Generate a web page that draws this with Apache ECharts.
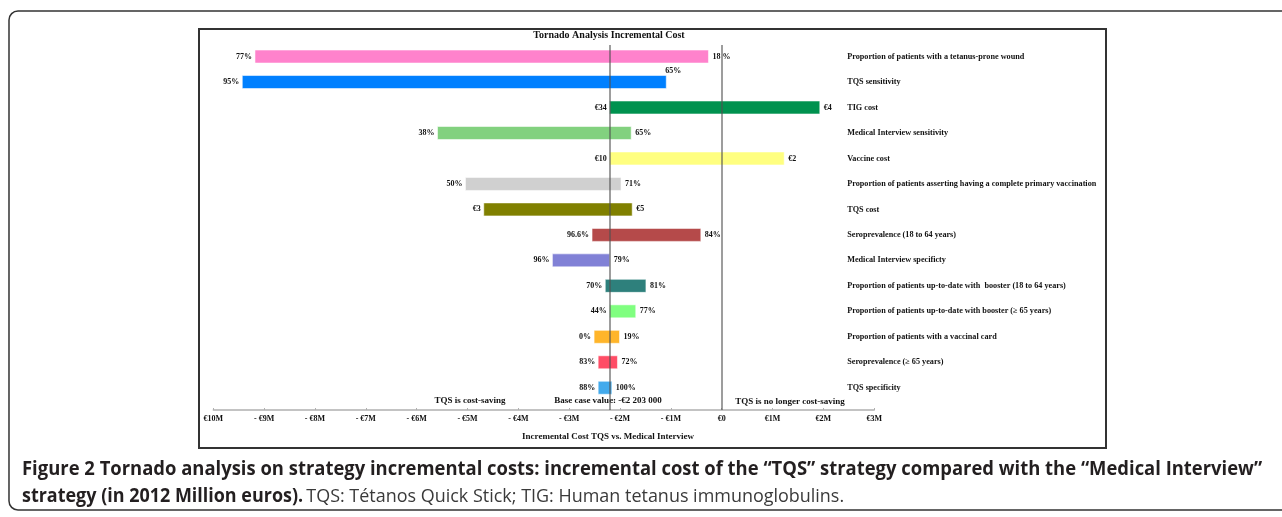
<!DOCTYPE html>
<html>
<head>
<meta charset="utf-8">
<script src="https://cdn.jsdelivr.net/npm/echarts@6/dist/echarts.min.js"></script>
<style>
html,body{margin:0;padding:0;background:#fff;}
#c{width:1282px;height:517px;}
</style>
</head>
<body>
<div id="c"></div>
<script>
const categories = [
  'Proportion of patients with a tetanus-prone wound',
  'TQS sensitivity',
  'TIG cost',
  'Medical Interview sensitivity',
  'Vaccine cost',
  'Proportion of patients asserting having a complete primary vaccination',
  'TQS cost',
  'Seroprevalence (18 to 64 years)',
  'Medical Interview specificty',
  'Proportion of patients up-to-date with  booster (18 to 64 years)',
  'Proportion of patients up-to-date with booster (\u2265 65 years)',
  'Proportion of patients with a vaccinal card',
  'Seroprevalence (\u2265 65 years)',
  'TQS specificity'
];
const baseValue = -2.203;
const lowValues  = [-9.18, -9.43, -2.203, -5.59, -2.203, -5.04, -4.68, -2.55, -3.33, -2.29, -2.203, -2.51, -2.43, -2.43];
const highValues = [-0.26, -1.09,  1.93, -1.78,  1.23, -1.98, -1.76, -0.41, -2.203, -1.49, -1.69, -2.01, -2.05, -2.16];
const lowLabels  = ['77%', '95%', '\u20ac34', '38%', '\u20ac10', '50%', '\u20ac3', '96.6%', '96%', '70%', '44%', '0%', '83%', '88%'];
const highLabels = ['18 %', '65%', '\u20ac4', '65%', '\u20ac2', '71%', '\u20ac5', '84%', '79%', '81%', '77%', '19%', '72%', '100%'];
const tickLabels = ['\u20ac10M', '- \u20ac9M', '- \u20ac8M', '- \u20ac7M', '- \u20ac6M', '- \u20ac5M', '- \u20ac4M', '- \u20ac3M', '- \u20ac2M', '- \u20ac1M', '\u20ac0', '\u20ac1M', '\u20ac2M', '\u20ac3M'];
const xMin = -10, xMax = 3;

const barColors = ['#ff82cc', '#0080ff', '#00924f', '#82d17f', '#ffff80', '#d0d0d0', '#808000', '#b54a4a', '#8181d6', '#2e807c', '#80ff80', '#ffb52a', '#ff4d66', '#43aaec'];
const labelAboveRows = new Set([1]);

const SERIF = '"Liberation Serif", "Times New Roman", serif';
const barFont = 'bold 8px ' + SERIF;

const chart = echarts.init(document.getElementById('c'), null, {renderer: 'canvas'});

const gridLeft = 213.3, gridWidth = 660.9;

const option = {
  animation: false,
  backgroundColor: '#fff',
  grid: [
    {left: gridLeft, width: gridWidth, top: 43.8, height: 356.7},
    {left: gridLeft, width: gridWidth, top: 45, height: 365}
  ],
  xAxis: [
    {gridIndex: 0, type: 'value', min: xMin, max: xMax, interval: 1, show: false},
    {
      gridIndex: 1, type: 'value', min: xMin, max: xMax, interval: 1,
      splitLine: {show: false},
      axisLine: {show: true, lineStyle: {color: '#b0b0b0', width: 1.5}},
      axisTick: {show: true, inside: true, length: 2, lineStyle: {color: '#b0b0b0'}},
      axisLabel: {
        margin: 5,
        color: '#111',
        fontFamily: SERIF,
        fontWeight: 'bold',
        fontSize: 8,
        formatter: function (v) { return tickLabels[Math.round(v - xMin)]; }
      }
    }
  ],
  yAxis: [
    {
      gridIndex: 0, type: 'category', data: categories, inverse: true, position: 'right',
      axisLine: {show: false}, axisTick: {show: false}, splitLine: {show: false},
      axisLabel: {
        align: 'left', margin: -27, color: '#111',
        fontFamily: SERIF, fontWeight: 'bold', fontSize: 8.2
      }
    },
    {gridIndex: 1, type: 'value', min: 0, max: 1, show: false}
  ],
  series: [
    {
      type: 'custom',
      xAxisIndex: 0, yAxisIndex: 0,
      clip: false,
      encode: {x: [1, 2], y: 0},
      data: categories.map(function (c, i) { return [i, lowValues[i], highValues[i]]; }),
      renderItem: function (params, api) {
        const i = api.value(0);
        const lo = api.coord([api.value(1), i]);
        const hi = api.coord([api.value(2), i]);
        const h = 13;
        const children = [
          {
            type: 'rect',
            shape: {x: lo[0], y: lo[1] - h / 2, width: hi[0] - lo[0], height: h},
            style: {fill: barColors[i], stroke: 'rgba(255,255,255,0.55)', lineWidth: 1}
          },
          {
            type: 'text',
            style: {text: lowLabels[i], x: lo[0] - 3, y: lo[1], align: 'right', verticalAlign: 'middle', font: barFont, fill: '#111'}
          }
        ];
        if (labelAboveRows.has(i)) {
          children.push({
            type: 'text',
            style: {text: highLabels[i], x: hi[0] - 1, y: lo[1] - h / 2 - 1, align: 'left', verticalAlign: 'bottom', font: barFont, fill: '#111'}
          });
        } else {
          children.push({
            type: 'text',
            style: {text: highLabels[i], x: hi[0] + 4, y: hi[1], align: 'left', verticalAlign: 'middle', font: barFont, fill: '#111'}
          });
        }
        return {type: 'group', children: children};
      },
      z: 2
    },
    {
      type: 'line',
      xAxisIndex: 1, yAxisIndex: 1,
      data: [],
      silent: true,
      z: 5,
      markLine: {
        silent: true,
        symbol: 'none',
        label: {show: false},
        lineStyle: {color: 'rgba(80,80,80,0.75)', width: 1.5, type: 'solid'},
        data: [{xAxis: baseValue}, {xAxis: 0}]
      }
    }
  ],
  graphic: [
    {
      type: 'rect', silent: true, z: -10,
      shape: {x: 9, y: 11, width: 1290, height: 499, r: 9},
      style: {fill: '#fff', stroke: '#333', lineWidth: 1.5}
    },
    {
      type: 'rect', silent: true, z: -9,
      shape: {x: 199, y: 29, width: 907, height: 419},
      style: {fill: '#fff', stroke: '#333', lineWidth: 2}
    },
    {
      type: 'text', silent: true, x: 609, y: 35,
      style: {text: 'Tornado Analysis Incremental Cost', align: 'center', verticalAlign: 'middle', font: 'bold 10px ' + SERIF, fill: '#111'}
    },
    {
      type: 'text', silent: true, x: 470, y: 401,
      style: {text: 'TQS is cost-saving', align: 'center', verticalAlign: 'middle', font: 'bold 9px ' + SERIF, fill: '#111'}
    },
    {
      type: 'text', silent: true, x: 608, y: 401,
      style: {text: 'Base case value: -\u20ac2 203 000', align: 'center', verticalAlign: 'middle', font: 'bold 9px ' + SERIF, fill: '#111'}
    },
    {
      type: 'text', silent: true, x: 790, y: 402,
      style: {text: 'TQS is no longer cost-saving', align: 'center', verticalAlign: 'middle', font: 'bold 9px ' + SERIF, fill: '#111'}
    },
    {
      type: 'text', silent: true, x: 608, y: 437,
      style: {text: 'Incremental Cost TQS vs. Medical Interview', align: 'center', verticalAlign: 'middle', font: 'bold 9px ' + SERIF, fill: '#111'}
    },
    {
      type: 'text', silent: true, x: 22, y: 470, scaleX: 0.97, scaleY: 1,
      style: {
        text: 'Figure 2 Tornado analysis on strategy incremental costs: incremental cost of the \u201cTQS\u201d strategy compared with the \u201cMedical Interview\u201d',
        align: 'left', verticalAlign: 'middle', font: 'bold 19px "Open Sans", sans-serif', fill: '#231f20'
      }
    },
    {
      type: 'text', silent: true, x: 22, y: 497, scaleX: 0.945, scaleY: 1,
      style: {
        text: '{b|strategy (in 2012 Million euros).} {n|TQS: T\u00e9tanos Quick Stick; TIG: Human tetanus immunoglobulins.}',
        align: 'left', verticalAlign: 'middle',
        rich: {
          b: {font: 'bold 19px "Open Sans", sans-serif', fill: '#231f20'},
          n: {font: '19px "Open Sans", sans-serif', fill: '#3a3a3a'}
        }
      }
    }
  ]
};
chart.setOption(option);
</script>
</body>
</html>
